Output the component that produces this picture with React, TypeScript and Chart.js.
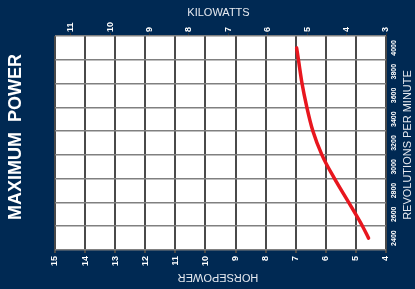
import React, { useEffect, useRef } from 'react';
import { Chart, registerables } from 'chart.js';

Chart.register(...registerables);

// Curve: horsepower at engine speed
const RPM = [2400, 2500, 2700, 2900, 3100, 3300, 3500, 3700, 3900, 4000];
const HP = [4.58, 4.78, 5.24, 5.71, 6.13, 6.43, 6.63, 6.79, 6.91, 6.97];

// Axis ticks
const HP_TICKS = [4, 5, 6, 7, 8, 9, 10, 11, 12, 13, 14, 15];
const KW_TICKS = [3, 4, 5, 6, 7, 8, 9, 10, 11];
const RPM_TICKS = [2400, 2600, 2800, 3000, 3200, 3400, 3600, 3800, 4000];
const RPM_GRID = [2300, 2500, 2700, 2900, 3100, 3300, 3500, 3700, 3900, 4100];

const NAVY = '#002953';
const FONT = "'Liberation Sans', Arial, sans-serif";

const backgroundPlugin = {
  id: 'plotBg',
  beforeDraw(chart: any) {
    const { ctx, chartArea } = chart;
    ctx.save();
    ctx.fillStyle = NAVY;
    ctx.fillRect(0, 0, chart.width, chart.height);
    ctx.fillStyle = '#ffffff';
    ctx.fillRect(chartArea.left, chartArea.top, chartArea.right - chartArea.left, chartArea.bottom - chartArea.top);
    ctx.restore();
  },
};

const titlesPlugin = {
  id: 'titles',
  afterDraw(chart: any) {
    const { ctx } = chart;
    ctx.save();
    ctx.textAlign = 'center';
    ctx.textBaseline = 'middle';
    ctx.fillStyle = '#e6eaf0';
    ctx.font = `11px ${FONT}`;
    ctx.fillText('KILOWATTS', 218.5, 12.5);

    ctx.save();
    ctx.translate(218, 277);
    ctx.rotate(Math.PI);
    ctx.fillText('HORSEPOWER', 0, 0);
    ctx.restore();

    ctx.save();
    ctx.translate(408, 145);
    ctx.rotate(-Math.PI / 2);
    ctx.fillText('REVOLUTIONS PER MINUTE', 0, 0);
    ctx.restore();

    ctx.fillStyle = '#ffffff';
    ctx.font = `bold 18px ${FONT}`;
    ctx.save();
    ctx.translate(16.5, 137);
    ctx.rotate(-Math.PI / 2);
    ctx.fillText('MAXIMUM  POWER', 0, 0);
    ctx.restore();
    ctx.restore();
  },
};

export default function App() {
  const ref = useRef<HTMLCanvasElement>(null);

  useEffect(() => {
    document.body.style.margin = '0';
    const canvas = ref.current;
    if (!canvas) return;
    const chart = new Chart(canvas, {
      type: 'line',
      data: {
        datasets: [
          {
            data: RPM.map((r, i) => ({ x: HP[i], y: r })),
            borderColor: '#e8161e',
            borderWidth: 3.5,
            borderCapStyle: 'round',
            cubicInterpolationMode: 'monotone',
            pointRadius: 0,
            fill: false,
            xAxisID: 'x',
            yAxisID: 'y',
          },
        ],
      },
      options: {
        responsive: false,
        animation: false,
        devicePixelRatio: 1,
        layout: { padding: 0 },
        plugins: { legend: { display: false }, tooltip: { enabled: false }, title: { display: false } },
        scales: {
          x: {
            type: 'linear',
            position: 'bottom',
            reverse: true,
            min: 4,
            max: 15,
            afterBuildTicks: (s: any) => { s.ticks = HP_TICKS.map((v) => ({ value: v })); },
            afterFit: (s: any) => { s.height = 39; },
            border: { display: false },
            grid: { color: '#4a4a4a', lineWidth: 2, drawTicks: true, tickLength: 3 },
            ticks: {
              autoSkip: false,
              minRotation: 90,
              maxRotation: 90,
              padding: 3,
              color: '#ffffff',
              font: { family: FONT, size: 9, weight: 'bold' },
              callback: (v: any) => String(v),
            },
          },
          x2: {
            type: 'linear',
            position: 'top',
            reverse: true,
            min: 3,
            max: 11.4,
            afterBuildTicks: (s: any) => { s.ticks = KW_TICKS.map((v) => ({ value: v })); },
            afterFit: (s: any) => { s.height = 36; },
            border: { display: false },
            grid: { drawOnChartArea: false, drawTicks: true, tickLength: 3, color: '#333333', lineWidth: 1 },
            ticks: {
              autoSkip: false,
              minRotation: 90,
              maxRotation: 90,
              padding: 1,
              labelOffset: 10.8,
              color: '#ffffff',
              font: { family: FONT, size: 9, weight: 'bold' },
              callback: (v: any) => String(v),
            },
          },
          y: {
            type: 'linear',
            position: 'right',
            min: 2300,
            max: 4100,
            afterBuildTicks: (s: any) => { s.ticks = RPM_TICKS.map((v) => ({ value: v })); },
            afterFit: (s: any) => { s.width = 29; },
            border: { display: false },
            grid: { display: false, drawTicks: false },
            ticks: {
              autoSkip: false,
              minRotation: 90,
              maxRotation: 90,
              crossAlign: 'center',
              padding: 0,
              color: '#ffffff',
              font: { family: FONT, size: 7, weight: 'bold' },
              callback: (v: any) => String(v),
            },
          },
          yg: {
            type: 'linear',
            position: 'left',
            min: 2300,
            max: 4100,
            afterBuildTicks: (s: any) => { s.ticks = RPM_GRID.map((v) => ({ value: v })); },
            afterFit: (s: any) => { s.width = 55; },
            border: { display: false },
            grid: { color: '#808080', lineWidth: 1.5, drawTicks: false },
            ticks: { display: false },
          },
        },
      } as any,
      plugins: [backgroundPlugin, titlesPlugin],
    });
    return () => chart.destroy();
  }, []);

  return (
    <div style={{ width: 415, height: 289, background: NAVY }}>
      <canvas ref={ref} width={415} height={289} style={{ display: 'block' }} />
    </div>
  );
}
